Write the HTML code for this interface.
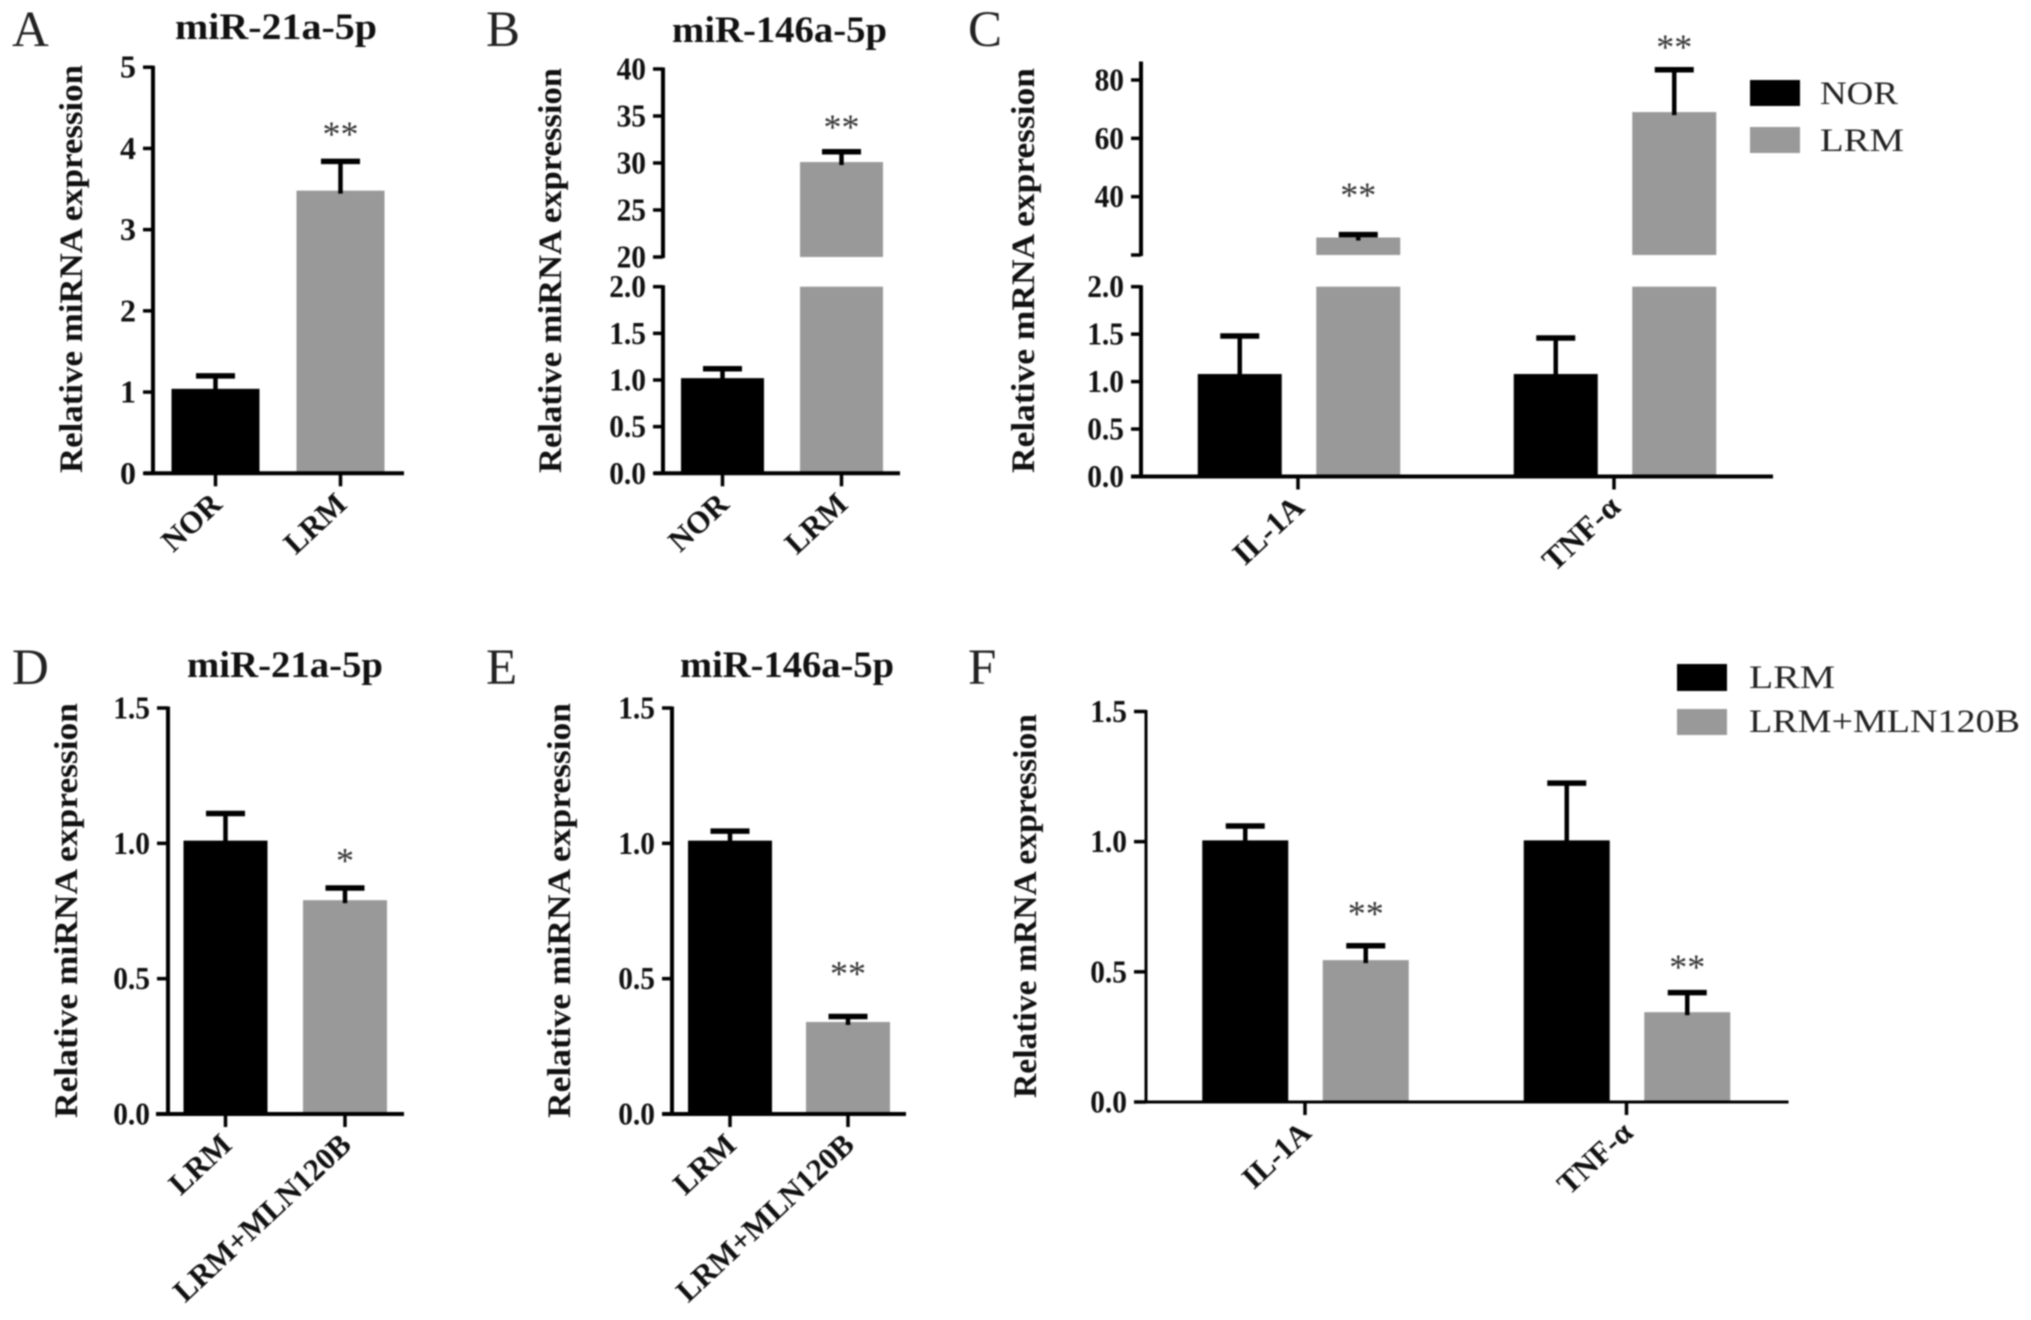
<!DOCTYPE html>
<html lang="en">
<head>
<meta charset="utf-8">
<title>Relative miRNA and mRNA expression panels</title>
<style>
  html, body { margin: 0; padding: 0; background: #fff; }
  #figure { display: block; width: 2031px; height: 1320px; filter: blur(0.9px); }
  text { font-family: "Liberation Serif", "DejaVu Serif", serif; fill: #111; }
  .letter { font-size: 51px; fill: #222; }
  .title { font-size: 37px; font-weight: bold; }
  .ytitle { font-size: 33px; font-weight: bold; }
  .legend { font-size: 33px; fill: #222; }
</style>
</head>
<body>
<svg id="figure" xmlns="http://www.w3.org/2000/svg" width="2031" height="1320" viewBox="0 0 2031 1320">
  <rect x="0" y="0" width="2031" height="1320" fill="#fff"/>

  <g id="panel-a">
    <text class="letter" x="12" y="46">A</text>
    <text class="title" x="175" y="39" textLength="202" lengthAdjust="spacingAndGlyphs">miR-21a-5p</text>
    <text class="ytitle" transform="translate(82,473) rotate(-90)" textLength="408" lengthAdjust="spacingAndGlyphs">Relative miRNA expression</text>
  </g>
  <g id="panel-b">
    <text class="letter" x="486" y="46">B</text>
    <text class="title" x="672" y="42" textLength="215" lengthAdjust="spacingAndGlyphs">miR-146a-5p</text>
    <text class="ytitle" transform="translate(561,473) rotate(-90)" textLength="405" lengthAdjust="spacingAndGlyphs">Relative miRNA expression</text>
  </g>
  <g id="panel-c">
    <text class="letter" x="968" y="46">C</text>
    <text class="ytitle" transform="translate(1034,473) rotate(-90)" textLength="405" lengthAdjust="spacingAndGlyphs">Relative mRNA expression</text>
    <rect x="1750" y="80" width="50" height="26" fill="#000"/>
    <text class="legend" x="1820" y="104" textLength="78" lengthAdjust="spacingAndGlyphs">NOR</text>
    <rect x="1750" y="127" width="50" height="26" fill="#999"/>
    <text class="legend" x="1820" y="151" textLength="84" lengthAdjust="spacingAndGlyphs">LRM</text>
  </g>
  <g id="panel-d">
    <text class="letter" x="12" y="684">D</text>
    <text class="title" x="187" y="677" textLength="196" lengthAdjust="spacingAndGlyphs">miR-21a-5p</text>
    <text class="ytitle" transform="translate(77,1118) rotate(-90)" textLength="415" lengthAdjust="spacingAndGlyphs">Relative miRNA expression</text>
  </g>
  <g id="panel-e">
    <text class="letter" x="486" y="684">E</text>
    <text class="title" x="680" y="677" textLength="214" lengthAdjust="spacingAndGlyphs">miR-146a-5p</text>
    <text class="ytitle" transform="translate(570,1118) rotate(-90)" textLength="415" lengthAdjust="spacingAndGlyphs">Relative miRNA expression</text>
  </g>
  <g id="panel-f">
    <text class="letter" x="968" y="684">F</text>
    <text class="ytitle" transform="translate(1036,1098) rotate(-90)" textLength="384" lengthAdjust="spacingAndGlyphs">Relative mRNA expression</text>
    <rect x="1677" y="664" width="50" height="27" fill="#000"/>
    <text class="legend" x="1749" y="688" textLength="86" lengthAdjust="spacingAndGlyphs">LRM</text>
    <rect x="1677" y="709" width="50" height="26" fill="#999"/>
    <text class="legend" x="1749" y="732" textLength="271" lengthAdjust="spacingAndGlyphs">LRM+MLN120B</text>
  </g>
</svg>
<script>
// ---------- Data ----------
const categoriesA = ['NOR', 'LRM'];
const meansA = [[1.04], [3.48]];
const upperA = [[1.2], [3.84]];
const starsA = [[null], ['**']];
const starLevelA = [[null], [4.23]];
const tickValuesA = [0, 1, 2, 3, 4, 5];
const tickLabelsA = ['0', '1', '2', '3', '4', '5'];

const categoriesB = ['NOR', 'LRM'];
const meansB = [[1.02], [30.1]];
const upperB = [[1.12], [31.2]];
const starsB = [[null], ['**']];
const starLevelB = [[null], [34.3]];
const tickValuesB = [0, 0.5, 1, 1.5, 2, 20, 25, 30, 35, 40];
const tickLabelsB = ['0.0', '0.5', '1.0', '1.5', '2.0', '20', '25', '30', '35', '40'];

const categoriesC = ['IL-1A', 'TNF-α'];
const meansC = [[1.08, 26], [1.08, 69]];
const upperC = [[1.48, 27], [1.46, 83.5]];
const starsC = [[null, '**'], [null, '**']];
const starLevelC = [[null, 42], [null, 92.8]];
const tickValuesC = [0, 0.5, 1, 1.5, 2, 20, 40, 60, 80];
const tickLabelsC = ['0.0', '0.5', '1.0', '1.5', '2.0', '', '40', '60', '80'];

const categoriesD = ['LRM', 'LRM+MLN120B'];
const meansD = [[1.01], [0.79]];
const upperD = [[1.11], [0.835]];
const starsD = [[null], ['*']];
const starLevelD = [[null], [0.953]];
const tickValuesD = [0, 0.5, 1, 1.5];
const tickLabelsD = ['0.0', '0.5', '1.0', '1.5'];

const categoriesE = ['LRM', 'LRM+MLN120B'];
const meansE = [[1.01], [0.34]];
const upperE = [[1.045], [0.36]];
const starsE = [[null], ['**']];
const starLevelE = [[null], [0.535]];
const tickValuesE = [0, 0.5, 1, 1.5];
const tickLabelsE = ['0.0', '0.5', '1.0', '1.5'];

const categoriesF = ['IL-1A', 'TNF-α'];
const meansF = [[1.005, 0.545], [1.005, 0.345]];
const upperF = [[1.06, 0.6], [1.225, 0.42]];
const starsF = [[null, '**'], [null, '**']];
const starLevelF = [[null, 0.741], [null, 0.534]];
const tickValuesF = [0, 0.5, 1, 1.5];
const tickLabelsF = ['0.0', '0.5', '1.0', '1.5'];

const barColors = ['#000', '#999'];
const SVGNS = 'http://www.w3.org/2000/svg';

function make(parent, tag, attrs, text) {
  const el = document.createElementNS(SVGNS, tag);
  for (const k in attrs) el.setAttribute(k, attrs[k]);
  if (text !== undefined) el.textContent = text;
  parent.appendChild(el);
  return el;
}

// Piecewise-linear value axis; each segment maps a value range to pixels.
function axisScale(segments) {
  return function (v) {
    let s = segments[segments.length - 1];
    for (const seg of segments) { if (v <= seg.domain[1]) { s = seg; break; } }
    const t = (v - s.domain[0]) / (s.domain[1] - s.domain[0]);
    return s.range[0] + t * (s.range[1] - s.range[0]);
  };
}

function drawPanel(p) {
  const root = document.getElementById(p.id);
  const y = axisScale(p.segments);
  const catX = function (i) { return p.xStart + i * p.xStep; };
  const barX = function (i, j, n) { return catX(i) + (j - (n - 1) / 2) * p.seriesGap + p.barShift; };
  const baseY = p.segments[0].range[0];

  // bars, error bars and significance marks
  p.means.forEach(function (row, i) {
    row.forEach(function (mean, j) {
      const cx = barX(i, j, row.length);
      const color = barColors[row.length === 1 ? i : j];
      p.segments.forEach(function (seg) {
        if (mean <= seg.domain[0]) return;
        const top = y(Math.min(mean, seg.domain[1]));
        const bottom = seg.range[0];
        const bar = make(root, 'rect', { x: cx - p.barWidth / 2, y: top, width: p.barWidth, height: bottom - top, fill: color });
        
        
      });
      const capY = y(p.upper[i][j]);
      const stem = make(root, 'line', { x1: cx, x2: cx, y1: y(mean) + 3, y2: capY, stroke: '#000', 'stroke-width': 4.5 });
      
      
      const cap = make(root, 'line', { x1: cx - 19.5, x2: cx + 19.5, y1: capY, y2: capY, stroke: '#000', 'stroke-width': 5.5 });
      
      
      if (p.stars[i][j]) {
        const size = 36;
        const star = make(root, 'text', { x: cx, y: y(p.starLevel[i][j]) + size * 0.45, 'text-anchor': 'middle', 'font-size': size, style: 'fill:#333' }, p.stars[i][j]);
        
        
      }
    });
  });

  // value axis (one line per segment)
  p.segments.forEach(function (seg, k) {
    const axisTop = k === p.segments.length - 1 ? p.axisTop : seg.range[1];
    const line = make(root, 'line', { x1: p.axisX, x2: p.axisX, y1: seg.range[0] + 1, y2: axisTop - 1.5, stroke: '#000', 'stroke-width': p.axisWidth });
    
    
  });
  p.tickValues.forEach(function (v, i) {
    const ty = y(v);
    const tick = make(root, 'line', { x1: p.axisX - p.tickLen, x2: p.axisX, y1: ty, y2: ty, stroke: '#000', 'stroke-width': 3.5 });
    
    
    if (p.tickLabels[i]) {
      const label = make(root, 'text', { transform: 'translate(' + (p.axisX - p.tickLen - 7) + ',' + (ty + 10.5) + ') scale(' + p.tickSqueeze + ',1)', 'text-anchor': 'end', 'font-size': 32, 'font-weight': 'bold' }, p.tickLabels[i]);
      
      
    }
  });

  // category axis
  const xAxis = make(root, 'line', { x1: p.xAxisStart, x2: p.xAxisEnd, y1: baseY, y2: baseY, stroke: '#000', 'stroke-width': p.axisWidth });
  
  
  p.categories.forEach(function (c, i) {
    const tx = catX(i);
    const tick = make(root, 'line', { x1: tx, x2: tx, y1: baseY, y2: baseY + 13, stroke: '#000', 'stroke-width': 3.5 });
    
    
    const lx = tx + 8;
    const ly = baseY + 33;
    const label = make(root, 'text', { transform: 'translate(' + lx + ',' + ly + ') rotate(-43)', 'text-anchor': 'end', 'font-size': p.xFont, 'font-weight': 'bold' }, c);
    
    
  });
}

drawPanel({ id: 'panel-a', categories: categoriesA, means: meansA, upper: upperA, stars: starsA, starLevel: starLevelA, tickValues: tickValuesA, tickLabels: tickLabelsA, tickSqueeze: 1,
  segments: [{ domain: [0, 5], range: [473.3, 67.2] }], axisTop: 67.2, axisX: 153, axisWidth: 4, tickLen: 10, xAxisStart: 144, xAxisEnd: 404, xStart: 215.5, xStep: 125, seriesGap: 0, barShift: 0, barWidth: 88, xFont: 31 });
drawPanel({ id: 'panel-b', categories: categoriesB, means: meansB, upper: upperB, stars: starsB, starLevel: starLevelB, tickValues: tickValuesB, tickLabels: tickLabelsB, tickSqueeze: 0.92,
  segments: [{ domain: [0, 2], range: [473.3, 286.7] }, { domain: [20, 40], range: [257, 69] }], axisTop: 69, axisX: 663, axisWidth: 4, tickLen: 10, xAxisStart: 654, xAxisEnd: 900, xStart: 722.5, xStep: 119, seriesGap: 0, barShift: 0, barWidth: 83, xFont: 31 });
drawPanel({ id: 'panel-c', categories: categoriesC, means: meansC, upper: upperC, stars: starsC, starLevel: starLevelC, tickValues: tickValuesC, tickLabels: tickLabelsC, tickSqueeze: 0.92,
  segments: [{ domain: [0, 2], range: [476.5, 286.7] }, { domain: [20, 80], range: [255, 80] }], axisTop: 63, axisX: 1141, axisWidth: 4, tickLen: 10, xAxisStart: 1131, xAxisEnd: 1773, xStart: 1298, xStep: 316, seriesGap: 118.5, barShift: 1, barWidth: 84, xFont: 32 });
drawPanel({ id: 'panel-d', categories: categoriesD, means: meansD, upper: upperD, stars: starsD, starLevel: starLevelD, tickValues: tickValuesD, tickLabels: tickLabelsD, tickSqueeze: 0.92,
  segments: [{ domain: [0, 1.5], range: [1114, 708] }], axisTop: 708, axisX: 168, axisWidth: 4, tickLen: 11, xAxisStart: 156, xAxisEnd: 404, xStart: 225.5, xStep: 119.5, seriesGap: 0, barShift: 0, barWidth: 84, xFont: 31 });
drawPanel({ id: 'panel-e', categories: categoriesE, means: meansE, upper: upperE, stars: starsE, starLevel: starLevelE, tickValues: tickValuesE, tickLabels: tickLabelsE, tickSqueeze: 0.92,
  segments: [{ domain: [0, 1.5], range: [1114, 708] }], axisTop: 708, axisX: 672, axisWidth: 4, tickLen: 10, xAxisStart: 662, xAxisEnd: 906, xStart: 730, xStep: 118, seriesGap: 0, barShift: 0, barWidth: 84, xFont: 31 });
drawPanel({ id: 'panel-f', categories: categoriesF, means: meansF, upper: upperF, stars: starsF, starLevel: starLevelF, tickValues: tickValuesF, tickLabels: tickLabelsF, tickSqueeze: 0.92,
  segments: [{ domain: [0, 1.5], range: [1102, 711.5] }], axisTop: 711.5, axisX: 1146, axisWidth: 3, tickLen: 12, xAxisStart: 1134, xAxisEnd: 1788.5, xStart: 1305, xStep: 321.5, seriesGap: 120.5, barShift: 0.5, barWidth: 86, xFont: 31 });
</script>
</body>
</html>
